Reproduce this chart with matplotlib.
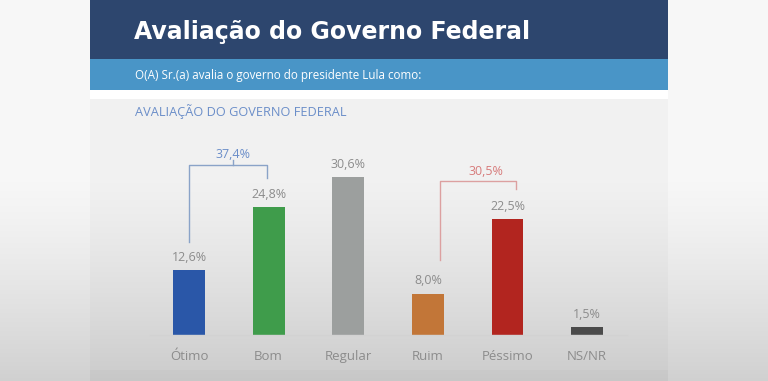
import matplotlib
matplotlib.use("Agg")
import matplotlib.pyplot as plt
import numpy as np

# data
categories = ["Ótimo", "Bom", "Regular", "Ruim", "Péssimo", "NS/NR"]
values = [12.6, 24.8, 30.6, 8.0, 22.5, 1.5]
value_labels = ["12,6%", "24,8%", "30,6%", "8,0%", "22,5%", "1,5%"]
bar_colors = ["#2a57a8", "#3f9c4b", "#9c9f9e", "#c27638", "#b2251f", "#4b4b4b"]

positive_label = "37,4%"
negative_label = "30,5%"

title = "Avaliação do Governo Federal"
question = "O(A) Sr.(a) avalia o governo do presidente Lula como:"
subtitle = "AVALIAÇÃO DO GOVERNO FEDERAL"

W, H = 768, 381
fig = plt.figure(figsize=(W / 100, H / 100), dpi=100)

# background in pixel space
bg = fig.add_axes([0, 0, 1, 1])
bg.set_xlim(0, W)
bg.set_ylim(H, 0)
bg.axis("off")

img = np.ones((H, W, 3)) * np.array([0.972, 0.972, 0.972])
img[:, 90:668] = [0.949, 0.949, 0.949]
img[0:59, 90:668] = [0.180, 0.275, 0.435]
img[59:90, 90:668] = [0.290, 0.588, 0.784]
img[90:99, 90:668] = [1.0, 1.0, 1.0]
img[370:, 90:668] = [0.93, 0.93, 0.93]
# soft darkening toward the bottom
rows = np.arange(H)
shade = np.clip((rows - 170) / (H - 170), 0, 1) ** 1.3 * 0.16
img = img * (1 - shade)[:, None, None]
bg.imshow(img, extent=(0, W, H, 0), aspect="auto", zorder=0)

bg.text(134, 32, title, color="white", fontsize=17, fontweight="bold",
        family="DejaVu Sans", va="center", ha="left")
bg.text(135, 75, question, color="white", fontsize=8.4, family="Open Sans",
        va="center", ha="left")
bg.text(135, 112, subtitle, color="#6b8ec9", fontsize=9.2, family="Open Sans",
        va="center", ha="left")

# chart area
ax = fig.add_axes([150 / W, (H - 335) / H, 477 / W, 195 / H])
ax.patch.set_alpha(0)
x = np.arange(len(categories))
ax.bar(x, values, width=0.4, color=bar_colors, zorder=2)
ax.set_xlim(-0.49, 5.5)
ax.set_ylim(0, 37.8)
for s in ["top", "right", "left"]:
    ax.spines[s].set_visible(False)
ax.spines["bottom"].set_color("#d2d2d2")
ax.spines["bottom"].set_linewidth(1)
ax.set_yticks([])
ax.set_xticks(x)
ax.set_xticklabels(categories, family="Open Sans", fontsize=9.5, color="#8c8c8c")
ax.tick_params(axis="x", length=0, pad=11)

for xi, v, lab in zip(x, values, value_labels):
    ax.text(xi, v + 2.5, lab, ha="center", va="center", family="Open Sans",
            fontsize=9, color="#8c8c8c")

# positive bracket (Ótimo + Bom)
blue = "#8aa3c8"
ax.plot([0, 0, 0.98, 0.98], [18.0, 32.9, 32.9, 30.4], color=blue, lw=1)
ax.plot([0.55, 0.55], [32.9, 34.0], color=blue, lw=1)
ax.text(0.55, 35.0, positive_label, ha="center", va="center", family="Open Sans",
        fontsize=9, color="#6b8ec9")

# negative bracket (Ruim + Péssimo)
red = "#dca0a0"
ax.plot([3.15, 3.15, 4.11, 4.11], [14.5, 29.8, 29.8, 28.3], color=red, lw=1)
ax.text(3.73, 31.6, negative_label, ha="center", va="center", family="Open Sans",
        fontsize=9, color="#d77b7b")

fig.savefig("out.png", dpi=100)
